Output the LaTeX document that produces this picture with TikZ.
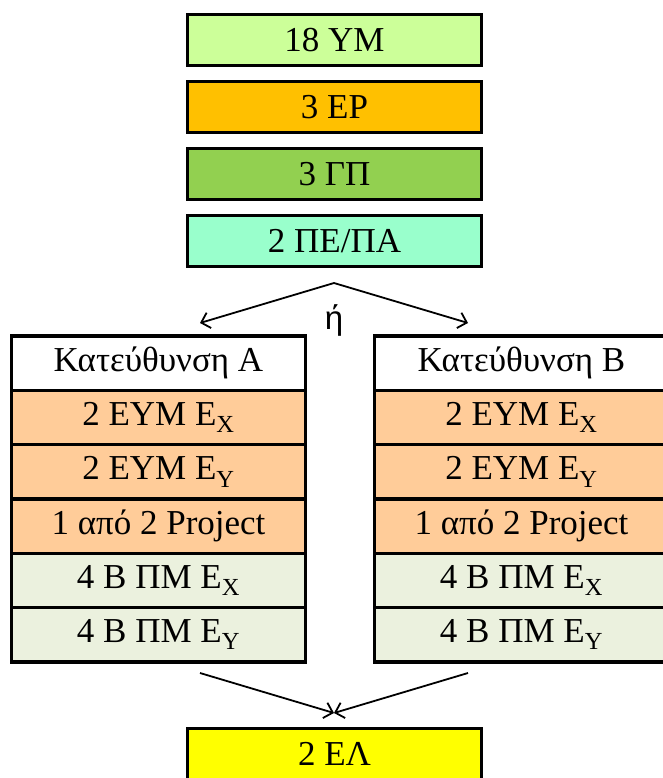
\documentclass[tikz,border=0pt]{standalone}
\usepackage{fontspec}
\setmainfont{Liberation Serif}
\newfontfamily\orfont{Liberation Sans}
\usetikzlibrary{arrows.meta}

\definecolor{ymgreen}{RGB}{204,255,153}
\definecolor{erorange}{RGB}{255,192,0}
\definecolor{gpgreen}{RGB}{146,208,80}
\definecolor{peaqua}{RGB}{153,255,204}
\definecolor{eympeach}{RGB}{255,204,153}
\definecolor{pmgray}{RGB}{235,241,222}
\definecolor{elyellow}{RGB}{255,255,0}

\begin{document}
\begin{tikzpicture}[x=1pt,y=-1pt,
  box/.style={draw,line width=3.5pt,minimum width=294pt,minimum height=51pt,inner sep=0pt,
    font=\fontsize{35}{40}\selectfont},
  row/.style={box,minimum height=54.3pt},
  link/.style={line width=1.8pt,-{Straight Barb[length=8pt,width=16pt]}}
]
\useasboundingbox (0,0) rectangle (663,778);

% common courses on top
\node[box,fill=ymgreen]  (ym) at (334.5,40)  {18 ΥΜ};
\node[box,fill=erorange] (er) at (334.5,107) {3 ΕΡ};
\node[box,fill=gpgreen]  (gp) at (334.5,174) {3 ΓΠ};
\node[box,fill=peaqua]   (pe) at (334.5,241) {2 ΠΕ/ΠΑ};

% split
\coordinate (fork) at (334,283);
\coordinate (toA) at (200,323);
\coordinate (toB) at (468,323);
\node[font=\orfont\fontsize{33}{38}\selectfont] (or) at (334,320) {ή};
\draw[link] (fork) -- (toA);
\draw[link] (fork) -- (toB);

% direction A
\node[row,fill=white]    (a1) at (158.5,363.2) {Κατεύθυνση Α};
\node[row,fill=eympeach] (a2) at (158.5,417.5) {2 ΕΥΜ Ε\textsubscript{X}};
\node[row,fill=eympeach] (a3) at (158.5,471.8) {2 ΕΥΜ Ε\textsubscript{Y}};
\node[row,fill=eympeach] (a4) at (158.5,526.1) {1 από 2 Project};
\node[row,fill=pmgray]   (a5) at (158.5,580.4) {4 Β ΠΜ Ε\textsubscript{X}};
\node[row,fill=pmgray]   (a6) at (158.5,634.7) {4 Β ΠΜ Ε\textsubscript{Y}};

% direction B
\node[row,fill=white]    (b1) at (521.5,363.2) {Κατεύθυνση Β};
\node[row,fill=eympeach] (b2) at (521.5,417.5) {2 ΕΥΜ Ε\textsubscript{X}};
\node[row,fill=eympeach] (b3) at (521.5,471.8) {2 ΕΥΜ Ε\textsubscript{Y}};
\node[row,fill=eympeach] (b4) at (521.5,526.1) {1 από 2 Project};
\node[row,fill=pmgray]   (b5) at (521.5,580.4) {4 Β ΠΜ Ε\textsubscript{X}};
\node[row,fill=pmgray]   (b6) at (521.5,634.7) {4 Β ΠΜ Ε\textsubscript{Y}};

% join
\coordinate (fromA) at (200,673);
\coordinate (fromB) at (468,673);
\coordinate (join) at (334,713);
\draw[link] (fromA) -- (join);
\draw[link] (fromB) -- (join);

\node[box,fill=elyellow] (el) at (334.5,754) {2 ΕΛ};
\end{tikzpicture}
\end{document}
